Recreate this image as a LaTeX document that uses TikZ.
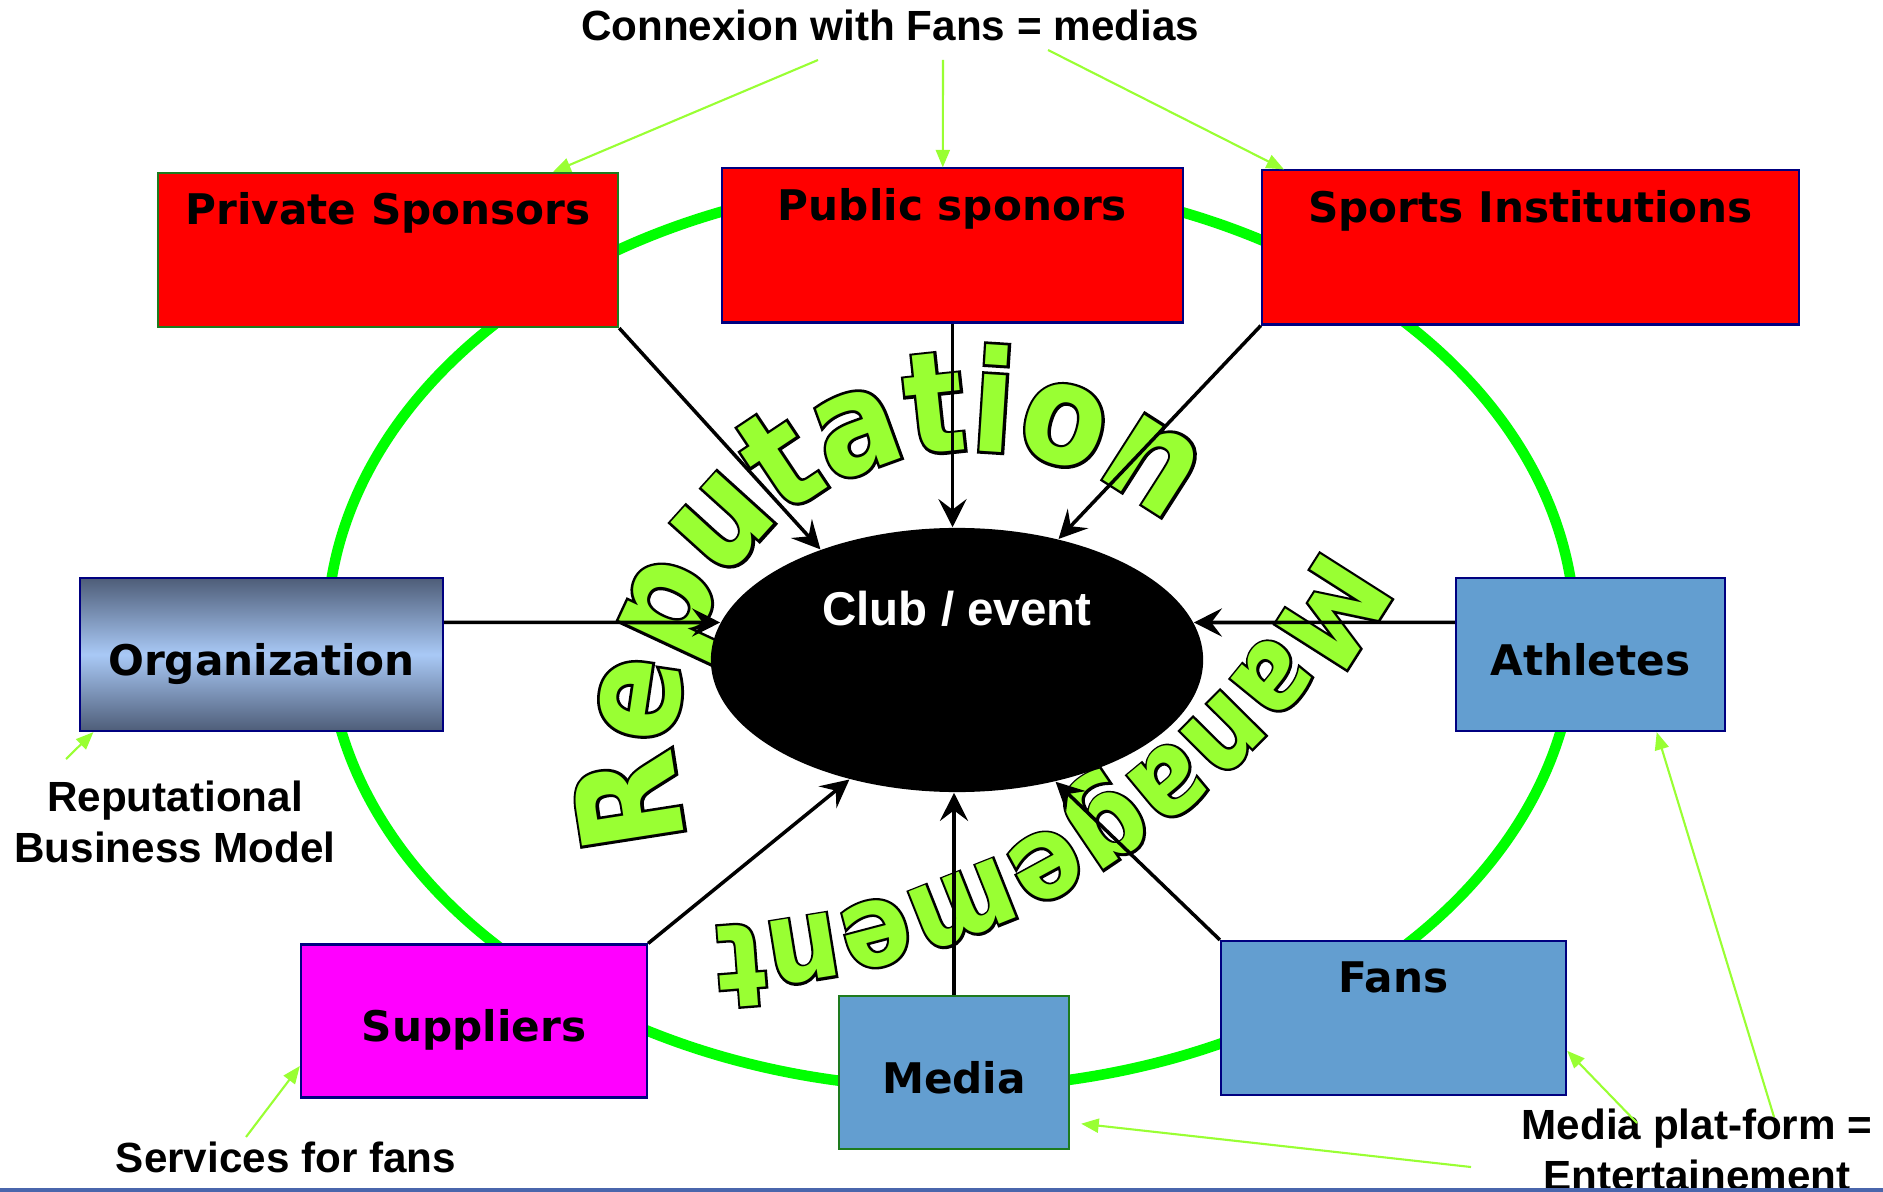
\documentclass[tikz,border=0pt]{standalone}
\usepackage{fontspec}
\setmainfont{Liberation Sans}
\newfontfamily\boxfont{DejaVu Sans}
\newfontfamily\wafont{DejaVu Sans Bold}[FakeStretch=0.88]
\newfontfamily\walinefont{DejaVu Sans Bold}[FakeStretch=0.88,FakeBold=4]
\usetikzlibrary{positioning,arrows.meta,shapes.geometric,calc,decorations.text}
\definecolor{ringgreen}{HTML}{00FF00}
\definecolor{wagreen}{HTML}{99FF33}
\definecolor{boxnavy}{HTML}{000080}
\definecolor{boxgreen}{HTML}{1E7B1E}
\definecolor{boxblue}{HTML}{639ED0}
\definecolor{boxmagenta}{HTML}{FF00FF}
\definecolor{orgdark}{HTML}{4E5D78}
\definecolor{orglight}{HTML}{A9C9F6}
\definecolor{baseblue}{HTML}{4A66AC}
\newcommand\repfont{\wafont\fontsize{40}{40}\selectfont}
\newcommand\repline{\walinefont\fontsize{40}{40}\selectfont}
\newcommand\manfont{\wafont\fontsize{33}{33}\selectfont}
\newcommand\manline{\walinefont\fontsize{33}{33}\selectfont}

\begin{document}
\begin{tikzpicture}[x=0.01cm, y=-0.01cm,
        box/.style={draw=boxnavy, line width=0.6pt, inner sep=0pt, minimum height=1.53cm, text height=0.41cm, text depth=0cm, font=\boxfont\bfseries\fontsize{12}{14}\selectfont},
        topbox/.style={box, text height=0.52cm, text depth=1.02cm},
        club/.style={ellipse, fill=black, text=white, inner sep=0pt, minimum width=4.92cm, minimum height=2.64cm, font=\bfseries\fontsize{13.5}{16}\selectfont},
        note/.style={font=\bfseries\fontsize{12}{14.5}\selectfont, align=center},
        ring/.style={draw=ringgreen, line width=3pt},
        link/.style={line width=1pt, -{Stealth[length=8pt, width=8pt, inset=3pt]}},
        hint/.style={draw=wagreen, line width=0.6pt, -{Triangle[length=5pt, width=4pt]}, fill=wagreen},
        arch/.style={decorate, decoration={text along path, text align=center, #1}}
    ]
        \useasboundingbox (0,0) rectangle (1883,1192);
        \draw[ring] (951,634) ellipse[x radius=624, y radius=454];

        \foreach \wf/\wc in {\repline/black, \repfont/wagreen}
            \path[arch={text={|\wf|Reputation}, text color=\wc}] ($(972,748)+(146.5:297)$) arc[start angle=146.5, end angle=326.5, radius=297];
        \foreach \wf/\wc in {\manline/black, \manfont/wagreen}
            \path[arch={text={|\wf|Management}, text color=\wc}] ($(682,197)+(18:730)$) arc[start angle=18, end angle=98, radius=730];

        \node[club] (club) at (957,660) {\raisebox{0.34cm}[0pt][0pt]{Club / event}};

        \node[topbox, fill=red, draw=boxgreen, minimum width=4.6cm] (priv) at (388,250) {Private Sponsors};
        \node[topbox, fill=red, minimum width=4.61cm] (pub) at (952.5,245.5) {Public sponors};
        \node[topbox, fill=red, minimum width=5.37cm] (inst) at (1530.5,247.5) {Sports Institutions};
        \node[box, top color=orgdark, bottom color=orgdark, middle color=orglight, minimum width=3.63cm] (org) at (261.5,654.5) {Organization};
        \node[box, fill=boxblue, minimum width=2.69cm] (ath) at (1590.5,654.5) {Athletes};
        \node[box, fill=boxmagenta, minimum width=3.46cm] (supp) at (474,1021) {Suppliers};
        \node[box, fill=boxblue, draw=boxgreen, minimum width=2.3cm] (media) at (954,1072.5) {Media};
        \node[topbox, fill=boxblue, minimum width=3.45cm] (fans) at (1393.5,1018) {Fans};

        \draw[link] (priv.south east) -- (club.141.6);
        \draw[link] (pub.south) -- (pub.south |- club.north);
        \draw[link] (inst.south west) -- (club.50);
        \draw[link] ([yshift=0.32cm]org.east) -- (club.171);
        \draw[link] ([yshift=0.32cm]ath.west) -- (club.9);
        \draw[link] (supp.north east) -- (club.228);
        \draw[link] (media.north) -- (media.north |- club.south);
        \draw[link] (fans.north west) -- (club.309.4);

        \node[note] (title) at (890,25) {Connexion with Fans = medias};
        \node[note] (rbm) at (175,822) {Reputational\\Business Model};
        \node[note] (serv) at (286,1157) {Services for fans};
        \node[note] (mpf) at (1697,1150) {Media plat-form =\\Entertainement};

        \coordinate (t1) at (818,60);
        \coordinate (t2) at (943,60);
        \coordinate (t3) at (1048,50);
        \coordinate (r1) at (66,759);
        \coordinate (s1) at (246,1137);
        \coordinate (m1) at (1637,1123);
        \coordinate (m2) at (1774,1117);
        \coordinate (e1) at (1471,1167);
        \draw[hint] (t1) -- ($(priv.north west)!0.857!(priv.north east)$);
        \draw[hint] (t2) -- ($(pub.north west)!0.479!(pub.north east)$);
        \draw[hint] (t3) -- ($(inst.north west)!0.043!(inst.north east)$);
        \draw[hint] (r1) -- ($(org.south west)!0.04!(org.south east)$);
        \draw[hint] (s1) -- ($(supp.north west)!0.79!(supp.south west)$);
        \draw[hint] (m1) -- ($(fans.north east)!0.71!(fans.south east)$);
        \draw[hint] (m2) -- ($(ath.south west)!0.744!(ath.south east)$);
        \draw[hint] (e1) -- ($(media.north east)!0.83!(media.south east)+(11,0)$);

        \draw[draw=baseblue, line width=1.1pt] (0,1190) -- (1883,1190);
    \end{tikzpicture}
\end{document}
